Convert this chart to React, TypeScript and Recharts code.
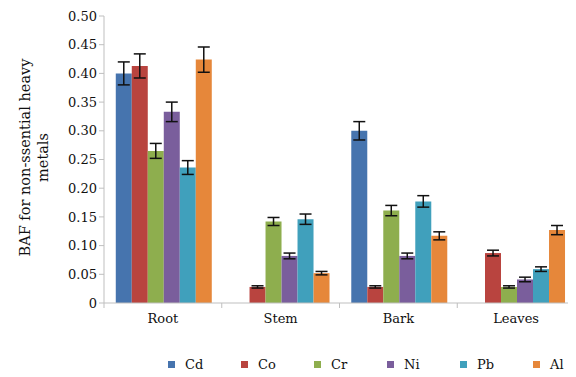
import React from 'react';
import { BarChart, Bar, XAxis, YAxis, ErrorBar, Legend, Label } from 'recharts';

const parts = ['Root', 'Stem', 'Bark', 'Leaves'];
const metals = ['Cd', 'Co', 'Cr', 'Ni', 'Pb', 'Al'];
const colors = ['#4674AE', '#B9443F', '#8EAE4E', '#7A5E9C', '#40A0BC', '#E6873A'];

const cd = [0.4, null, 0.3, null];
const co = [0.413, 0.028, 0.028, 0.087];
const cr = [0.265, 0.142, 0.161, 0.028];
const ni = [0.333, 0.082, 0.082, 0.041];
const pb = [0.236, 0.146, 0.177, 0.059];
const al = [0.424, 0.052, 0.117, 0.127];

const cdErr = [0.02, null, 0.016, null];
const coErr = [0.021, 0.002, 0.002, 0.005];
const crErr = [0.013, 0.007, 0.009, 0.002];
const niErr = [0.017, 0.005, 0.005, 0.004];
const pbErr = [0.012, 0.009, 0.01, 0.004];
const alErr = [0.022, 0.003, 0.007, 0.008];

const yTicks = [0, 0.05, 0.1, 0.15, 0.2, 0.25, 0.3, 0.35, 0.4, 0.45, 0.5];

const values = [cd, co, cr, ni, pb, al];
const errors = [cdErr, coErr, crErr, niErr, pbErr, alErr];

const data = parts.map((p, i) => {
  const row: any = { name: p };
  metals.forEach((m, j) => {
    row[m] = values[j][i];
    row[m + '_err'] = errors[j][i];
  });
  return row;
});

const FONT = "'DejaVu Serif', serif";
const AXIS = '#BFBFBF';

const W = 576;
const H = 377;
const LEFT = 104;
const RIGHT = 1;
const BAND = (W - LEFT - RIGHT) / parts.length;

const CategoryTick = ({ x, y, payload }: any) => (
  <g>
    <line x1={x - BAND / 2} x2={x - BAND / 2} y1={y - 8} y2={y - 3} stroke={AXIS} />
    <text x={x} y={y + 12} textAnchor="middle" style={{ fontFamily: FONT }} fontSize={13} fill="#111">
      {payload.value}
    </text>
  </g>
);

const YLabel = ({ viewBox }: any) => {
  const cy = viewBox.y + viewBox.height / 2 - 2;
  return (
    <g style={{ fontFamily: FONT }}>
      <text transform={`translate(30, ${cy}) rotate(-90)`} textAnchor="middle" fontSize={14.5} fill="#111">
        BAF for non-ssential heavy
      </text>
      <text transform={`translate(48, ${cy}) rotate(-90)`} textAnchor="middle" fontSize={14.5} fill="#111">
        metals
      </text>
    </g>
  );
};

const LegendBox = () => (
  <div
    style={{
      display: 'flex',
      paddingLeft: 168,
      fontFamily: FONT,
      fontSize: 13,
      color: '#111',
    }}
  >
    {metals.map((m, i) => (
      <div key={m} style={{ width: 73, flexShrink: 0, display: 'flex', alignItems: 'center' }}>
        <span
          style={{
            display: 'inline-block',
            width: 7,
            height: 7,
            background: colors[i],
            marginRight: 10,
          }}
        />
        <span>{m}</span>
      </div>
    ))}
  </div>
);

export default function App() {
  return (
    <div style={{ margin: -8, width: W, height: H, background: '#fff', fontFamily: FONT }}>
      <BarChart
        width={W}
        height={H}
        data={data}
        margin={{ top: 16, right: RIGHT, bottom: 0, left: 0 }}
        barCategoryGap="10%"
        barGap={0}
        style={{ fontFamily: FONT }}
      >
        <XAxis
          dataKey="name"
          stroke={AXIS}
          tickLine={false}
          tick={<CategoryTick />}
          interval={0}
          height={54}
        />
        <YAxis
          width={LEFT}
          domain={[0, 0.5]}
          ticks={yTicks}
          stroke={AXIS}
          tickSize={5}
          tickFormatter={(v: number) => (v === 0 ? '0' : v.toFixed(2))}
          tick={{ fontSize: 13, fill: '#111', style: { fontFamily: FONT } }}
        >
          <Label content={<YLabel />} />
        </YAxis>
        <Legend verticalAlign="bottom" height={20} content={<LegendBox />} />
        {metals.map((m, i) => (
          <Bar key={m} dataKey={m} fill={colors[i]} isAnimationActive={false}>
            <ErrorBar dataKey={m + '_err'} width={6} stroke="#111" strokeWidth={1.5} />
          </Bar>
        ))}
      </BarChart>
    </div>
  );
}
